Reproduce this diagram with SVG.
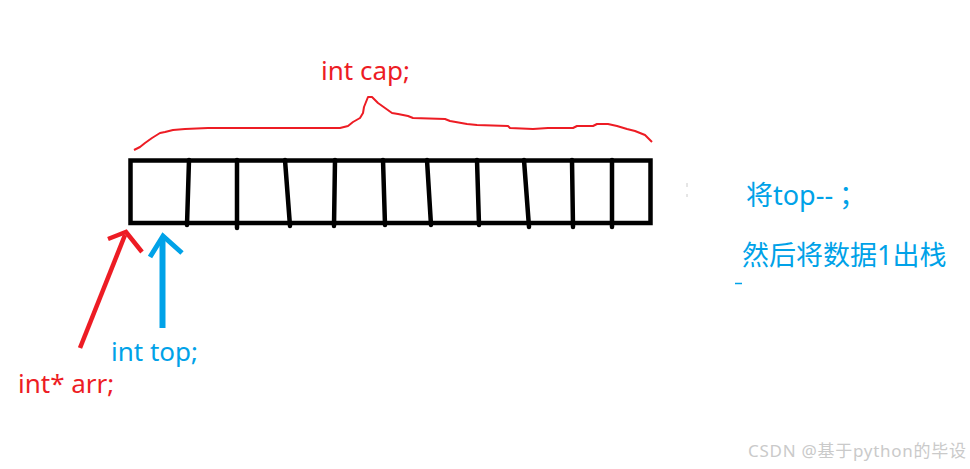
<svg xmlns="http://www.w3.org/2000/svg" width="970" height="469" viewBox="0 0 970 469">
<style>
.red{fill:#ED1C24}
.blue{fill:#00A2E8}
.lbl{font-family:"Noto Sans","Noto Sans CJK SC",sans-serif;font-size:26px}
.note{font-size:27px}
.cell{stroke:#000;stroke-width:4.5;fill:none;stroke-linecap:round}
.brace{stroke:#ED1C24;stroke-width:2;fill:none;stroke-linejoin:round}
.ra{stroke:#ED1C24;stroke-width:4.5;fill:none;stroke-linecap:butt;stroke-linejoin:miter}
.ba{stroke:#00A2E8;fill:none;stroke-linejoin:miter}
.wm{font-family:"Noto Sans","Noto Sans CJK SC",sans-serif;font-size:17px;fill:#cacaca}
</style>
<rect width="970" height="469" fill="#fff"/>
<g id="array">
<rect class="cell" x="130.5" y="160.5" width="520" height="62.5" stroke-linecap="butt"/>
<line class="cell" x1="189" y1="160" x2="187" y2="225"/>
<line class="cell" x1="237" y1="160" x2="237" y2="228"/>
<line class="cell" x1="285" y1="160" x2="290" y2="226"/>
<line class="cell" x1="335" y1="160" x2="334" y2="226"/>
<line class="cell" x1="383" y1="160" x2="385" y2="225"/>
<line class="cell" x1="427" y1="160" x2="431" y2="225"/>
<line class="cell" x1="477" y1="160" x2="479" y2="225"/>
<line class="cell" x1="524" y1="160" x2="529" y2="227"/>
<line class="cell" x1="572" y1="160" x2="573" y2="227"/>
<line class="cell" x1="612" y1="160" x2="612" y2="227"/>
</g>
<g id="cap">
<polyline class="brace" points="134,150 140,147 145,143 152,138 160,133 165,132 173,130 185,129 208,128 220,128 340,128 348,126 353,122 360,118 363,113 364,107 368,97 372,97 378,103 385,108 392,113 398,114 408,116 413,118 445,119 450,121 467,124 477,125 508,126 510,128 533,129 548,128 573,128 577,126 593,126 597,124 608,124 617,126 627,129 635,131 645,135 648,138 652,142"/>
<text class="lbl red" x="321" y="80">int cap;</text>
</g>
<g id="arr">
<text class="lbl red" x="18" y="393">int* arr;</text>
</g>
<g id="top">
<text class="lbl blue" x="111" y="361">int top;</text>
</g>
<g id="note">
<text class="lbl note blue" x="746" y="205">将top--<tspan dx="6">；</tspan></text>
<text class="lbl note blue" x="742" y="265">然后将数据1出栈</text>
<line x1="735" y1="283.5" x2="742" y2="283.5" stroke="#00A2E8" stroke-width="1.5"/>
<line x1="687" y1="183" x2="687" y2="187" stroke="#ccc" stroke-width="1"/>
<line x1="687" y1="194" x2="687" y2="197" stroke="#ccc" stroke-width="1"/>
</g>
<g id="connectors">
<line class="ra" x1="80" y1="348" x2="125" y2="235"/>
<polyline class="ra" points="108,239 126,232 142,252"/>
<line class="ba" x1="162.5" y1="328" x2="162.5" y2="238" stroke-width="6"/>
<polyline class="ba" stroke-width="5" points="150,257 163,236 182,253"/>
</g>
<text class="wm" x="748" y="457" textLength="218">CSDN @基于python的毕设</text>
</svg>
